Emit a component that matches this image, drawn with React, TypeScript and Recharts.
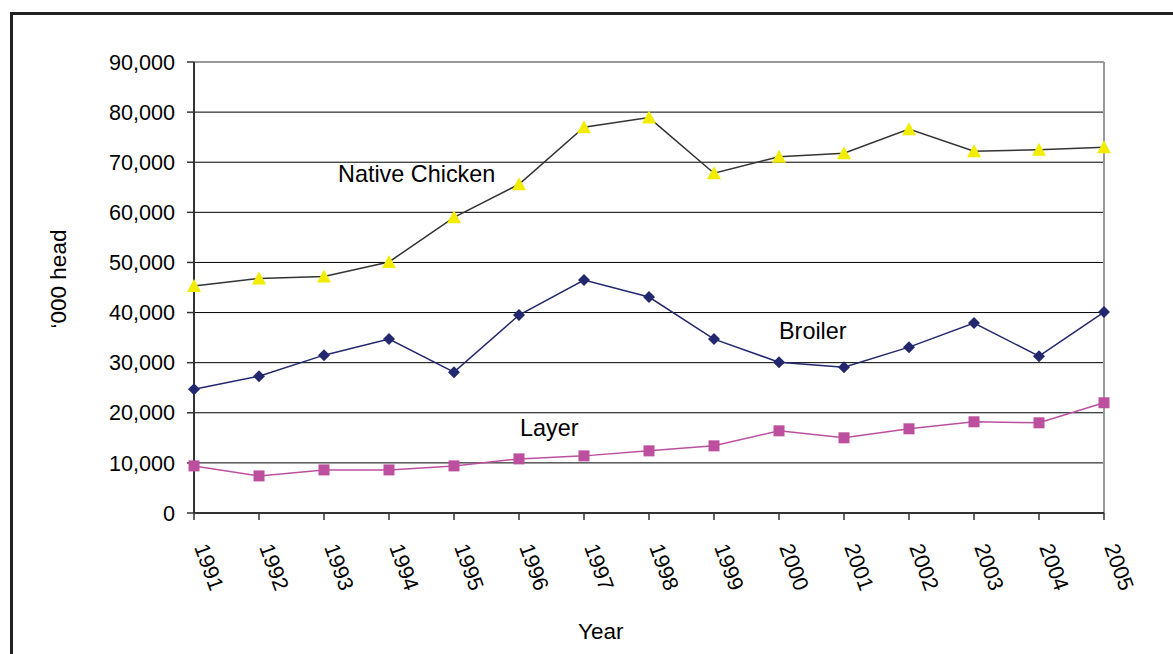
import { LineChart, Line, XAxis, YAxis, CartesianGrid, ReferenceLine } from 'recharts';

const years = ['1991', '1992', '1993', '1994', '1995', '1996', '1997', '1998', '1999', '2000', '2001', '2002', '2003', '2004', '2005'];
const nativeChicken = [45300, 46800, 47200, 50100, 59000, 65600, 77000, 78900, 67800, 71100, 71800, 76600, 72200, 72500, 73000];
const broiler = [24700, 27300, 31500, 34700, 28100, 39500, 46500, 43100, 34700, 30100, 29100, 33100, 37900, 31300, 40100];
const layer = [9400, 7400, 8600, 8600, 9400, 10800, 11400, 12400, 13400, 16400, 15000, 16800, 18200, 18000, 22000];
const yTicks = [0, 10000, 20000, 30000, 40000, 50000, 60000, 70000, 80000, 90000];

const data = years.map((year, i) => ({
  year,
  native: nativeChicken[i],
  broiler: broiler[i],
  layer: layer[i],
}));

const FONT = '"Liberation Sans", Arial, sans-serif';

function Triangle(props: any) {
  const { cx, cy } = props;
  if (cx == null || cy == null) return null;
  return <polygon points={`${cx},${cy - 7} ${cx - 7},${cy + 6} ${cx + 7},${cy + 6}`} fill="#F2EC00" />;
}

function Diamond(props: any) {
  const { cx, cy } = props;
  if (cx == null || cy == null) return null;
  return <polygon points={`${cx},${cy - 6} ${cx + 6},${cy} ${cx},${cy + 6} ${cx - 6},${cy}`} fill="#23286E" />;
}

function Square(props: any) {
  const { cx, cy } = props;
  if (cx == null || cy == null) return null;
  return <rect x={cx - 5.5} y={cy - 5.5} width={11} height={11} fill="#BD4F9F" />;
}

function YearTick(props: any) {
  const { x, y, payload } = props;
  return (
    <text
      x={x}
      y={y + 25}
      transform={`rotate(70, ${x}, ${y + 25})`}
      textAnchor="start"
      fontSize={21.6}
      fontFamily={FONT}
      fill="#000"
    >
      {payload.value}
    </text>
  );
}

const label = (left: number, top: number, text: string, extra: any = {}) => (
  <div
    style={{
      position: 'absolute',
      left,
      top,
      fontFamily: FONT,
      fontSize: 22,
      color: '#000',
      whiteSpace: 'nowrap',
      lineHeight: 1,
      ...extra,
    }}
  >
    {text}
  </div>
);

export default function App() {
  return (
    <div style={{ position: 'absolute', left: 0, top: 0, width: 1173, height: 654, overflow: 'hidden', background: '#fff' }}>
      <div
        style={{
          position: 'absolute',
          left: 10,
          top: 12,
          width: 1300,
          height: 800,
          border: '3px solid #222',
        }}
      />
      <div style={{ position: 'absolute', left: 0, top: 0 }}>
        <LineChart width={1173} height={654} data={data} margin={{ top: 62, right: 69, left: 0, bottom: 0 }}>
          <CartesianGrid horizontal vertical={false} stroke="#000" strokeWidth={1} />
          <XAxis
            dataKey="year"
            height={141}
            tick={<YearTick />}
            tickLine={{ stroke: '#333', strokeWidth: 1.5 }}
            tickSize={7}
            axisLine={{ stroke: '#333', strokeWidth: 2 }}
            interval={0}
          />
          <YAxis
            width={194}
            domain={[0, 90000]}
            ticks={yTicks}
            interval={0}
            tickSize={7}
            tickMargin={12}
            tickFormatter={(v: number) => v.toLocaleString('en-US')}
            tick={{ fontSize: 21.6, fontFamily: FONT, fill: '#000' }}
            tickLine={{ stroke: '#333', strokeWidth: 1.5 }}
            axisLine={{ stroke: '#333', strokeWidth: 2 }}
          />
          <ReferenceLine y={90000} stroke="#999" strokeWidth={2} />
          <ReferenceLine x="2005" stroke="#999" strokeWidth={2} />
          <Line
            dataKey="native"
            stroke="#333"
            strokeWidth={1.5}
            dot={<Triangle />}
            activeDot={false}
            isAnimationActive={false}
          />
          <Line
            dataKey="broiler"
            stroke="#23286E"
            strokeWidth={1.5}
            dot={<Diamond />}
            activeDot={false}
            isAnimationActive={false}
          />
          <Line
            dataKey="layer"
            stroke="#BD4F9F"
            strokeWidth={1.5}
            dot={<Square />}
            activeDot={false}
            isAnimationActive={false}
          />
        </LineChart>
      </div>
      {label(338, 163, 'Native Chicken', { fontSize: 23.4 })}
      {label(779, 320, 'Broiler', { fontSize: 23.4 })}
      {label(520, 417, 'Layer', { fontSize: 23.4 })}
      {label(578, 621, 'Year', { fontSize: 22.5 })}
      {label(59, 279, '‘000 head', { fontSize: 22.5, transform: 'translate(-50%, -50%) rotate(-90deg)' })}
    </div>
  );
}
